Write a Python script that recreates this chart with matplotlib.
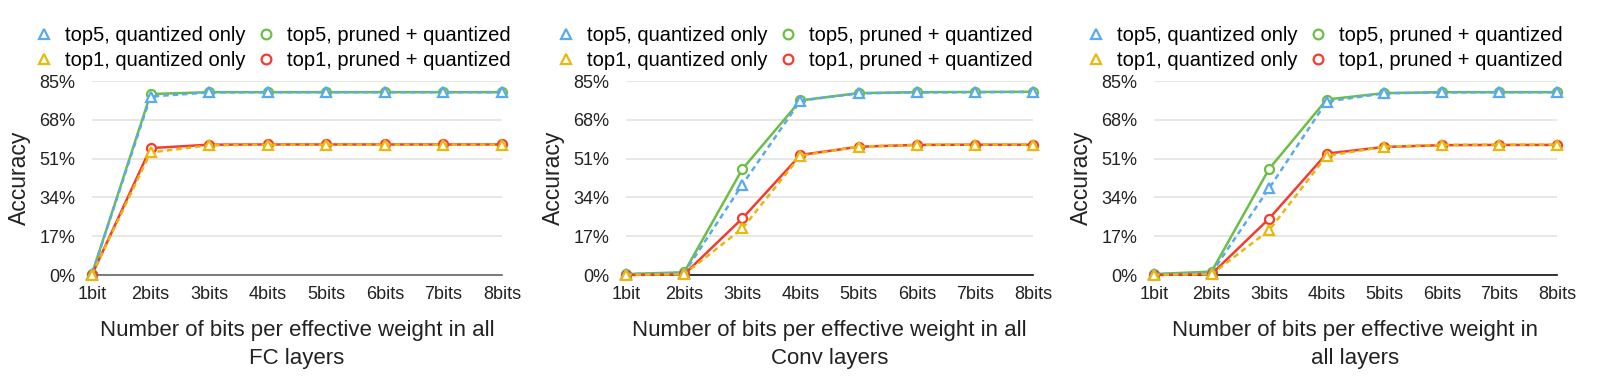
import numpy as np
import matplotlib.pyplot as plt
from matplotlib.lines import Line2D

plt.rcParams['font.family'] = ['Liberation Sans', 'DejaVu Sans']

bits = ["1bit", "2bits", "3bits", "4bits", "5bits", "6bits", "7bits", "8bits"]

# FC layers
fc_top5_q = [0.5, 78.2, 80.0, 80.1, 80.1, 80.1, 80.1, 80.1]
fc_top1_q = [0.1, 53.7, 56.8, 57.1, 57.1, 57.1, 57.1, 57.1]
fc_top5_pq = [0.5, 79.3, 80.1, 80.1, 80.1, 80.1, 80.1, 80.1]
fc_top1_pq = [0.1, 55.6, 57.1, 57.2, 57.2, 57.2, 57.2, 57.2]

# Conv layers
conv_top5_q = [0.4, 0.9, 39.6, 76.4, 79.6, 80.0, 80.1, 80.2]
conv_top1_q = [0.1, 0.3, 20.4, 52.2, 56.3, 57.0, 57.1, 57.1]
conv_top5_pq = [0.4, 1.2, 46.4, 76.5, 79.7, 80.1, 80.2, 80.3]
conv_top1_pq = [0.0, 0.3, 24.8, 52.6, 56.2, 57.0, 57.1, 57.1]

# All layers
all_top5_q = [0.4, 1.0, 38.0, 76.0, 79.6, 80.0, 80.1, 80.1]
all_top1_q = [0.1, 0.3, 19.6, 52.2, 56.2, 57.0, 57.1, 57.1]
all_top5_pq = [0.4, 1.5, 46.5, 76.9, 79.7, 80.1, 80.1, 80.1]
all_top1_pq = [0.0, 0.4, 24.7, 53.2, 56.1, 56.9, 57.0, 57.0]

xlabels = ["Number of bits per effective weight in all\nFC layers",
           "Number of bits per effective weight in all\nConv layers",
           "Number of bits per effective weight in\nall layers"]

panels = [
    (fc_top5_q, fc_top1_q, fc_top5_pq, fc_top1_pq),
    (conv_top5_q, conv_top1_q, conv_top5_pq, conv_top1_pq),
    (all_top5_q, all_top1_q, all_top5_pq, all_top1_pq),
]

BLUE = "#5aaaf0"
YELLOW = "#e8b90c"
GREEN = "#6cbf45"
RED = "#f53b2f"

fig = plt.figure(figsize=(15.97, 3.8), dpi=100)
boxes = [(0.0576, 0.2763, 0.2567, 0.5105),
         (0.3920, 0.2763, 0.2549, 0.5105),
         (0.7226, 0.2763, 0.2523, 0.5105)]
legend_x = [0.44, 0.413, 0.423]
spine_colors = ["#666666", "#111111", "#111111"]

x = np.arange(len(bits))
dash = (0, (2.2, 1.6))
for box, data, xl, lx, sc in zip(boxes, panels, xlabels, legend_x, spine_colors):
    t5q, t1q, t5pq, t1pq = data
    ax = fig.add_axes(box)
    kw = dict(markersize=6.5, markerfacecolor="white", markeredgewidth=1.6, clip_on=False)
    ax.plot(x, t5pq, color=GREEN, lw=1.8, marker="o", zorder=3, **kw)
    ax.plot(x, t1pq, color=RED, lw=1.8, marker="o", zorder=3, **kw)
    ax.plot(x, t5q, color=BLUE, lw=1.8, ls=dash, marker="^", zorder=4, **kw)
    ax.plot(x, t1q, color=YELLOW, lw=1.8, ls=dash, marker="^", zorder=4, **kw)

    ax.set_xlim(0, 7)
    ax.set_ylim(0, 85)
    ax.set_yticks([0, 17, 34, 51, 68, 85])
    ax.set_yticklabels(["0%", "17%", "34%", "51%", "68%", "85%"])
    ax.set_xticks(x)
    ax.set_xticklabels(bits)
    ax.tick_params(length=0, labelsize=13, colors="#222222", pad=8)
    ax.tick_params(axis="y", pad=12)
    ax.grid(axis="y", color="#e3e3e3", lw=1.2)
    ax.set_axisbelow(True)
    for s in ["left", "right", "top"]:
        ax.spines[s].set_visible(False)
    ax.spines["bottom"].set_color(sc)
    ax.spines["bottom"].set_linewidth(1.2)
    ax.set_ylabel("Accuracy", fontsize=16.5, color="#222222", labelpad=6)
    ax.set_xlabel(xl, fontsize=16, color="#222222", labelpad=12, linespacing=1.45)

    handles = [
        Line2D([], [], color=BLUE, marker="^", ls="none", markersize=7, markerfacecolor="white", markeredgewidth=1.6),
        Line2D([], [], color=YELLOW, marker="^", ls="none", markersize=7, markerfacecolor="white", markeredgewidth=1.6),
        Line2D([], [], color=GREEN, marker="o", ls="none", markersize=7, markerfacecolor="white", markeredgewidth=1.6),
        Line2D([], [], color=RED, marker="o", ls="none", markersize=7, markerfacecolor="white", markeredgewidth=1.6),
    ]
    labels = ["top5, quantized only", "top1, quantized only",
              "top5, pruned + quantized", "top1, pruned + quantized"]
    ax.legend(handles, labels, ncol=2, loc="center", bbox_to_anchor=(lx, 1.17),
              frameon=False, fontsize=14.5, handlelength=1.0, handletextpad=0.55,
              columnspacing=0.5, labelspacing=0.3, borderpad=0)

fig.savefig("out.png", dpi=100)
